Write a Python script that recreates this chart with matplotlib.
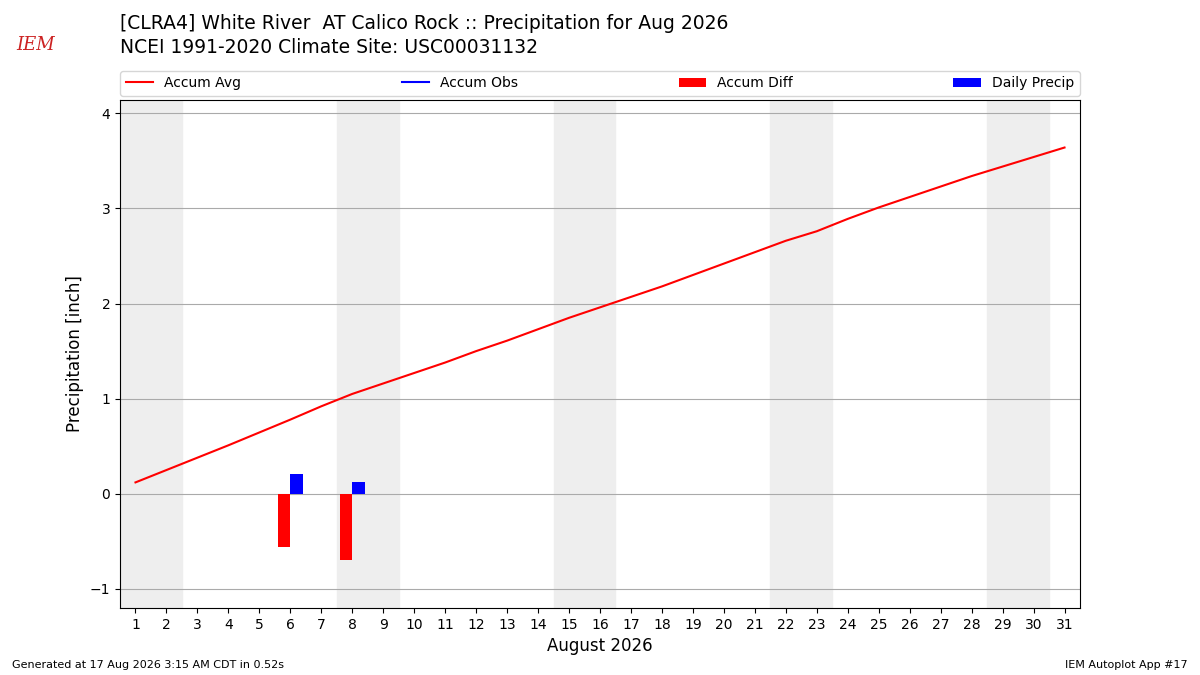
import matplotlib
matplotlib.use("Agg")
import matplotlib.pyplot as plt

# daily climatology accumulation for August (inch)
days = list(range(1, 32))
accum_avg = [0.12, 0.25, 0.38, 0.51, 0.645, 0.78, 0.92, 1.05, 1.16, 1.27,
             1.38, 1.50, 1.61, 1.73, 1.85, 1.96, 2.07, 2.18, 2.30, 2.42,
             2.54, 2.66, 2.76, 2.89, 3.01, 3.12, 3.23, 3.34, 3.44, 3.54,
             3.64]

# observed days
obs_days = [6, 8]
accum_diff = [-0.56, -0.70]
daily_precip = [0.21, 0.12]

weekends = [1, 8, 15, 22, 29]

fig = plt.figure(figsize=(12, 6.75), dpi=100)
ax = fig.add_axes([0.1, 0.0993, 0.8, 0.7526])

for w in weekends:
    ax.axvspan(w - 0.5, w + 1.5, color="#eeeeee", zorder=0)

ax.plot(days, accum_avg, color="r", label="Accum Avg", zorder=3)
ax.plot([], [], color="b", label="Accum Obs")
ax.bar(obs_days, accum_diff, width=-0.4, align="edge", color="r",
       label="Accum Diff", zorder=3)
ax.bar(obs_days, daily_precip, width=0.4, align="edge", color="b",
       label="Daily Precip", zorder=3)

ax.set_xlim(0.5, 31.5)
ax.set_ylim(-1.2, 4.14)
ax.set_xticks(days)
ax.grid(axis="y", color="#aaaaaa", zorder=1)
ax.set_axisbelow(True)
ax.set_ylabel("Precipitation [inch]", fontsize=12)
ax.set_xlabel("August 2026", fontsize=12)

ax.legend(loc="lower left", bbox_to_anchor=(0, 1.008, 1, 0.05), ncol=4,
          mode="expand", borderaxespad=0, fontsize=10)

fig.text(0.1, 0.965, "[CLRA4] White River  AT Calico Rock :: Precipitation for Aug 2026",
         fontsize=13.5, va="center")
fig.text(0.1, 0.929, "NCEI 1991-2020 Climate Site: USC00031132",
         fontsize=13.5, va="center")

# logo stand-in
fig.text(0.03, 0.933, "IEM", color="#cc2222", fontsize=13, style="italic",
         family="DejaVu Serif", va="center", ha="center")

fig.text(0.01, 0.015, "Generated at 17 Aug 2026 3:15 AM CDT in 0.52s",
         fontsize=8, va="center")
fig.text(0.99, 0.015, "IEM Autoplot App #17", fontsize=8, va="center",
         ha="right")

fig.savefig("out.png")
